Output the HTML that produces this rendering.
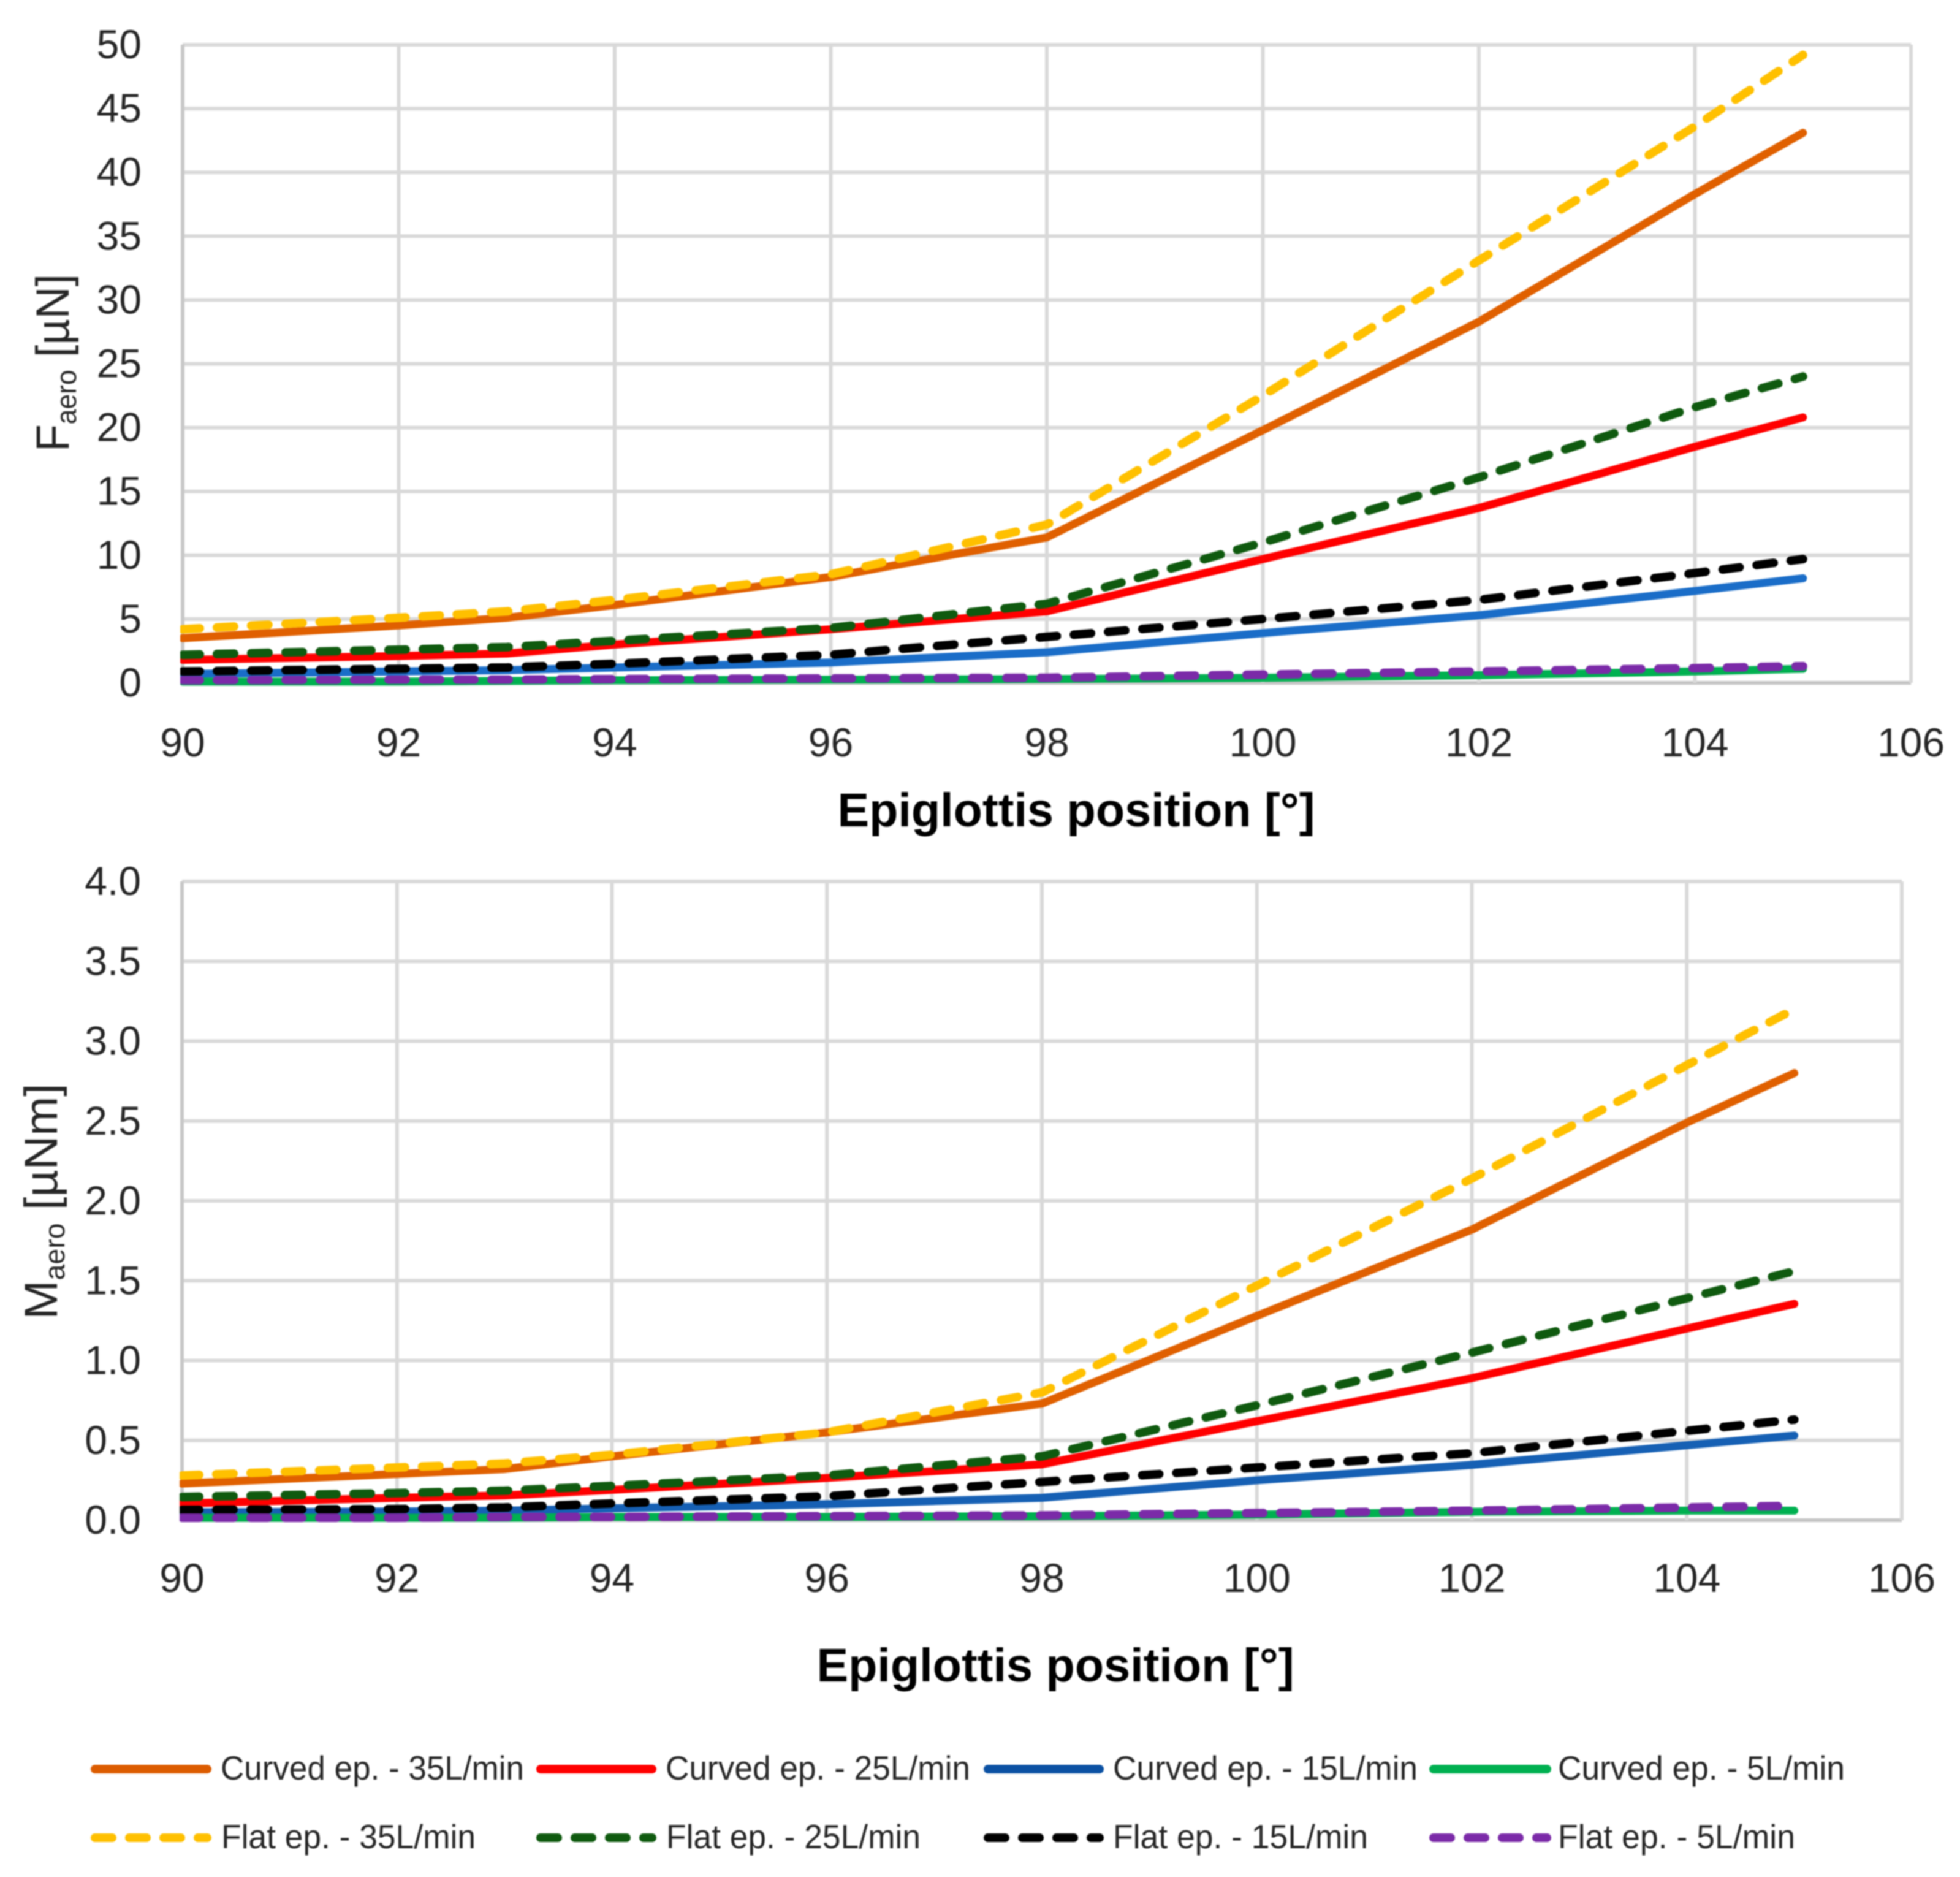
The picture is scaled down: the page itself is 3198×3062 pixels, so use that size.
<!DOCTYPE html>
<html lang="en">
<head>
<meta charset="utf-8">
<title>Aerodynamic force and moment vs epiglottis position</title>
<style>
html,body{margin:0;padding:0;background:#fff;}
svg{display:block;filter:blur(1px);}
text{font-family:"Liberation Sans",sans-serif;fill:#262626;}
.legend-text{font-size:55px;}
.x-title{font-size:77px;font-weight:bold;fill:#000;}
.y-title{font-size:76px;}
</style>
</head>
<body>
<svg id="root" xmlns="http://www.w3.org/2000/svg" width="3198" height="3062" viewBox="0 0 3198 3062">
  <rect x="0" y="0" width="3198" height="3062" fill="#ffffff"/>
  <g id="force-chart"></g>
  <g id="moment-chart"></g>

  <text class="x-title" x="1756" y="1348" text-anchor="middle" textLength="779" lengthAdjust="spacingAndGlyphs">Epiglottis position [°]</text>
  <text class="x-title" x="1722" y="2743" text-anchor="middle" textLength="779" lengthAdjust="spacingAndGlyphs">Epiglottis position [°]</text>

  <text class="y-title" transform="translate(112,592) rotate(-90)" text-anchor="middle" textLength="290" lengthAdjust="spacingAndGlyphs">F<tspan font-size="46" dy="12">aero</tspan><tspan dy="-12"> [µN]</tspan></text>
  <text class="y-title" transform="translate(93,1960) rotate(-90)" text-anchor="middle" textLength="385" lengthAdjust="spacingAndGlyphs">M<tspan font-size="46" dy="12">aero</tspan><tspan dy="-12"> [µNm]</tspan></text>

  <g stroke-linecap="round" fill="none">
    <g>
      <line x1="155" y1="2886" x2="338" y2="2886" stroke="#DC5C00" stroke-width="14"/>
      <text class="legend-text" x="360" y="2903" textLength="495" lengthAdjust="spacingAndGlyphs">Curved ep. - 35L/min</text>
    </g>
    <g>
      <line x1="882" y1="2886" x2="1064" y2="2886" stroke="#FF0000" stroke-width="14"/>
      <text class="legend-text" x="1086" y="2903" textLength="497" lengthAdjust="spacingAndGlyphs">Curved ep. - 25L/min</text>
    </g>
    <g>
      <line x1="1612" y1="2886" x2="1794" y2="2886" stroke="#0B51A3" stroke-width="14"/>
      <text class="legend-text" x="1816" y="2903" textLength="497" lengthAdjust="spacingAndGlyphs">Curved ep. - 15L/min</text>
    </g>
    <g>
      <line x1="2339" y1="2886" x2="2524" y2="2886" stroke="#00B050" stroke-width="14"/>
      <text class="legend-text" x="2542" y="2903" textLength="468" lengthAdjust="spacingAndGlyphs">Curved ep. - 5L/min</text>
    </g>
    <g>
      <line x1="155" y1="2998" x2="338" y2="2998" stroke="#FFC000" stroke-width="14" stroke-dasharray="28 28"/>
      <text class="legend-text" x="361" y="3015" textLength="415" lengthAdjust="spacingAndGlyphs">Flat ep. - 35L/min</text>
    </g>
    <g>
      <line x1="882" y1="2998" x2="1064" y2="2998" stroke="#0F5A0F" stroke-width="14" stroke-dasharray="28 28"/>
      <text class="legend-text" x="1087" y="3015" textLength="415" lengthAdjust="spacingAndGlyphs">Flat ep. - 25L/min</text>
    </g>
    <g>
      <line x1="1612" y1="2998" x2="1794" y2="2998" stroke="#000000" stroke-width="14" stroke-dasharray="28 28"/>
      <text class="legend-text" x="1816" y="3015" textLength="416" lengthAdjust="spacingAndGlyphs">Flat ep. - 15L/min</text>
    </g>
    <g>
      <line x1="2339" y1="2998" x2="2524" y2="2998" stroke="#7B2AA8" stroke-width="14" stroke-dasharray="28 28"/>
      <text class="legend-text" x="2542" y="3015" textLength="387" lengthAdjust="spacingAndGlyphs">Flat ep. - 5L/min</text>
    </g>
  </g>
</svg>

<script>
// Shared categories and tick labels
const positions = [90, 92, 93, 94, 96, 98, 100, 102, 104, 105];
const xTicks = [90, 92, 94, 96, 98, 100, 102, 104, 106];
const forceTicks = [0, 5, 10, 15, 20, 25, 30, 35, 40, 45, 50];
const forceTickLabels = ['0', '5', '10', '15', '20', '25', '30', '35', '40', '45', '50'];
const momentTicks = [0, 0.5, 1, 1.5, 2, 2.5, 3, 3.5, 4];
const momentTickLabels = ['0.0', '0.5', '1.0', '1.5', '2.0', '2.5', '3.0', '3.5', '4.0'];

// Force values (uN)
const forceCurved35 = [3.5, 4.5, 5.1, 6.1, 8.3, 11.4, 19.8, 28.3, 38.3, 43.1];
const forceCurved25 = [1.8, 2.1, 2.3, 3.0, 4.2, 5.6, 9.7, 13.7, 18.5, 20.8];
const forceCurved15 = [0.7, 0.9, 1.0, 1.2, 1.6, 2.4, 3.9, 5.3, 7.2, 8.2];
const forceCurved5 = [0.1, 0.1, 0.15, 0.2, 0.25, 0.3, 0.4, 0.6, 0.9, 1.1];
const forceFlat35 = [4.2, 5.1, 5.6, 6.5, 8.5, 12.4, 22.5, 33.1, 43.6, 49.2];
const forceFlat25 = [2.2, 2.6, 2.8, 3.3, 4.3, 6.2, 11.0, 16.1, 21.6, 24.0];
const forceFlat15 = [0.9, 1.1, 1.2, 1.5, 2.2, 3.6, 5.0, 6.5, 8.6, 9.7];
const forceFlat5 = [0.2, 0.25, 0.25, 0.3, 0.35, 0.4, 0.65, 0.9, 1.15, 1.3];

// Moment values (uNm)
const momentCurved35 = [0.23, 0.29, 0.32, 0.40, 0.55, 0.73, 1.28, 1.82, 2.49, 2.80];
const momentCurved25 = [0.105, 0.14, 0.155, 0.19, 0.265, 0.35, 0.62, 0.89, 1.20, 1.355];
const momentCurved15 = [0.05, 0.055, 0.06, 0.075, 0.10, 0.14, 0.25, 0.347, 0.47, 0.53];
const momentCurved5 = [0.015, 0.015, 0.015, 0.02, 0.02, 0.025, 0.035, 0.053, 0.06, 0.06];
const momentFlat35 = [0.28, 0.33, 0.355, 0.41, 0.55, 0.80, 1.47, 2.14, 2.85, 3.20];
const momentFlat25 = [0.145, 0.17, 0.185, 0.215, 0.28, 0.40, 0.72, 1.05, 1.39, 1.56];
const momentFlat15 = [0.065, 0.07, 0.08, 0.105, 0.15, 0.24, 0.33, 0.42, 0.56, 0.63];
const momentFlat5 = [0.015, 0.015, 0.02, 0.02, 0.025, 0.03, 0.045, 0.06, 0.08, 0.09];

const NS = 'http://www.w3.org/2000/svg';

function make(tag, parent) {
  const el = document.createElementNS(NS, tag);
  parent.appendChild(el);
  return el;
}

function drawChart(cfg) {
  const group = document.getElementById(cfg.id);
  const xScale = v => cfg.left + (v - 90) * (cfg.right - cfg.left) / 16;
  const yScale = v => cfg.bottom - v * (cfg.bottom - cfg.top) / cfg.yMax;

  // gridlines and axis labels
  cfg.yTicks.forEach((tick, i) => {
    const line = make('line', group);
    
    
    line.setAttribute('x1', cfg.left);
    line.setAttribute('x2', cfg.right);
    line.setAttribute('y1', yScale(tick));
    line.setAttribute('y2', yScale(tick));
    line.setAttribute('stroke', tick === 0 ? '#C4C4C4' : '#D9D9D9');
    line.setAttribute('stroke-width', '6');
    const label = make('text', group);
    
    
    label.setAttribute('x', cfg.left - 67);
    label.setAttribute('y', yScale(tick) + 22);
    label.setAttribute('text-anchor', 'end');
    label.setAttribute('font-size', '66');
    label.textContent = cfg.yLabels[i];
  });
  xTicks.forEach(tick => {
    const line = make('line', group);
    
    
    line.setAttribute('x1', xScale(tick));
    line.setAttribute('x2', xScale(tick));
    line.setAttribute('y1', cfg.top);
    line.setAttribute('y2', cfg.bottom);
    line.setAttribute('stroke', tick === 90 ? '#C8C8C8' : '#D9D9D9');
    line.setAttribute('stroke-width', '6');
    const label = make('text', group);
    
    
    label.setAttribute('x', xScale(tick));
    label.setAttribute('y', cfg.xLabelY);
    label.setAttribute('text-anchor', 'middle');
    label.setAttribute('font-size', '66');
    label.textContent = String(tick);
  });

  // clip region of the plot
  const clip = make('clipPath', group);
  clip.setAttribute('id', cfg.id + '-clip');
  const clipRect = make('rect', clip);
  clipRect.setAttribute('x', cfg.left - 4);
  clipRect.setAttribute('y', cfg.top - 10);
  clipRect.setAttribute('width', cfg.right - cfg.left + 10);
  clipRect.setAttribute('height', cfg.bottom - cfg.top + 15);

  const marks = make('g', group);
  
  
  marks.setAttribute('clip-path', 'url(#' + cfg.id + '-clip)');

  cfg.series.forEach(s => {
    const path = make('polyline', marks);
    
    
    path.setAttribute('points', s.values.map((v, i) => xScale(positions[i]).toFixed(1) + ',' + yScale(v).toFixed(1)).join(' '));
    path.setAttribute('fill', 'none');
    path.setAttribute('stroke', s.color);
    path.setAttribute('stroke-linecap', 'round');
    path.setAttribute('stroke-linejoin', 'round');
    path.setAttribute('stroke-width', s.dashed ? '14' : '13');
    if (s.dashed) path.setAttribute('stroke-dasharray', '28 28');
  });
}

drawChart({
  id: 'force-chart', left: 298, right: 3118, top: 73, bottom: 1114, yMax: 50, xLabelY: 1234,
  yTicks: forceTicks, yLabels: forceTickLabels,
  series: [
    {name: 'force-curved-35', values: forceCurved35, color: '#E06000', dashed: false},
    {name: 'force-curved-25', values: forceCurved25, color: '#FF0000', dashed: false},
    {name: 'force-curved-15', values: forceCurved15, color: '#1A6DC8', dashed: false},
    {name: 'force-curved-5', values: forceCurved5, color: '#00B050', dashed: false},
    {name: 'force-flat-35', values: forceFlat35, color: '#FFC000', dashed: true},
    {name: 'force-flat-25', values: forceFlat25, color: '#0F5A0F', dashed: true},
    {name: 'force-flat-15', values: forceFlat15, color: '#000000', dashed: true},
    {name: 'force-flat-5', values: forceFlat5, color: '#7B2AA8', dashed: true}
  ]
});

drawChart({
  id: 'moment-chart', left: 297, right: 3103, top: 1438, bottom: 2480, yMax: 4, xLabelY: 2597,
  yTicks: momentTicks, yLabels: momentTickLabels,
  series: [
    {name: 'moment-curved-35', values: momentCurved35, color: '#E06000', dashed: false},
    {name: 'moment-curved-25', values: momentCurved25, color: '#FF0000', dashed: false},
    {name: 'moment-curved-15', values: momentCurved15, color: '#1660B4', dashed: false},
    {name: 'moment-curved-5', values: momentCurved5, color: '#00B050', dashed: false},
    {name: 'moment-flat-35', values: momentFlat35, color: '#FFC000', dashed: true},
    {name: 'moment-flat-25', values: momentFlat25, color: '#0F5A0F', dashed: true},
    {name: 'moment-flat-15', values: momentFlat15, color: '#000000', dashed: true},
    {name: 'moment-flat-5', values: momentFlat5, color: '#7B2AA8', dashed: true}
  ]
});
</script>
</body>
</html>
